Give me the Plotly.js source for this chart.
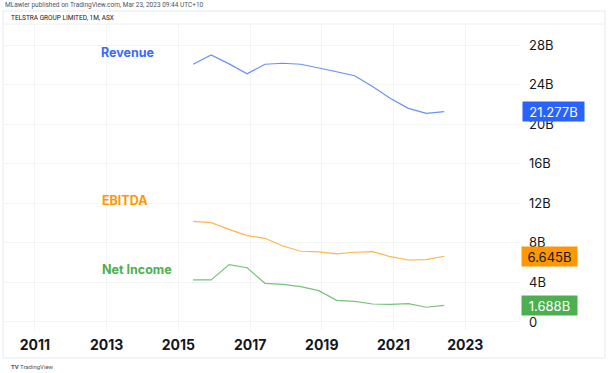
<!DOCTYPE html>
<html>
<head>
<meta charset="utf-8">
<script src="https://cdn.plot.ly/plotly-3.0.1.min.js"></script>
<style>
html,body{margin:0;padding:0;background:#fff;}
#chart{width:609px;height:373px;}
</style>
</head>
<body>
<div id="chart"></div>
<script>
// Half-yearly report dates (bar start of month)
const dates = ['2015-06-01','2015-12-01','2016-06-01','2016-12-01','2017-06-01','2017-12-01','2018-06-01','2018-12-01','2019-06-01','2019-12-01','2020-06-01','2020-12-01','2021-06-01','2021-12-01','2022-06-01'];
// Values in billions AUD
const revenue  = [26.06, 27.0, 26.1, 25.1, 26.06, 26.16, 26.06, 25.7, 25.3, 24.9, 23.8, 22.6, 21.6, 21.1, 21.277];
const ebitda   = [10.18, 10.04, 9.37, 8.73, 8.46, 7.68, 7.15, 7.08, 6.88, 7.05, 7.11, 6.6, 6.27, 6.30, 6.645];
const netIncome= [4.25, 4.25, 5.8, 5.49, 3.91, 3.81, 3.57, 3.17, 2.19, 2.09, 1.82, 1.79, 1.85, 1.49, 1.688];
const yTickVals = [0,4,8,12,16,20,24,28];
const yTickText = ['0','4B','8B','12B','16B','20B','24B','28B'];
const seriesNames = ['Revenue','EBITDA','Net Income'];
const lastLabels = ['21.277B','6.645B','1.688B'];

const lineColors = ['#6a90f6','#ffb450','#78c27b'];
const textColors = ['#3a6cf6','#ff9800','#4caf50'];
const boxColors  = ['#2962ff','#ff9800','#4caf50'];
const boxText    = ['#ffffff','#131722','#ffffff'];
const boxWidths  = [58,52,52];
const allSeries = [revenue, ebitda, netIncome];

const traces = allSeries.map((vals,i)=>({
  x: dates, y: vals, type:'scatter', mode:'lines',
  line:{color:lineColors[i], width:1.2}, hoverinfo:'skip', showlegend:false
}));

// plot area pixel geometry: x 3..520, y 24..330
const W=517, H=306;
const px = v => (v-3)/W;
const py = v => (330-v)/H;

const annotations = [];
// series name labels in plot
const namePos = [[99,52],[100,201],[100,269]];
seriesNames.forEach((n,i)=>{
  annotations.push({xref:'paper',yref:'paper',x:px(namePos[i][0]),y:py(namePos[i][1]),xanchor:'left',yanchor:'middle',
    text:'<b>'+n+'</b>',showarrow:false,font:{family:'Inter, Roboto, sans-serif',size:12.5,color:textColors[i]}});
});
// last value boxes
allSeries.forEach((vals,i)=>{
  annotations.push({xref:'paper',yref:'y',x:px(i===0?522:521),y:vals[vals.length-1],xanchor:'left',yanchor:'middle',
    text:lastLabels[i],showarrow:false,bgcolor:boxColors[i],borderpad:1.5,width:boxWidths[i],align:'center',
    font:{family:'Inter, Roboto, sans-serif',size:13,color:boxText[i]}});
});
// header texts
annotations.push({xref:'paper',yref:'paper',x:px(3),y:py(5),xanchor:'left',yanchor:'middle',showarrow:false,
  text:'MLawler published on TradingView.com, Mar 23, 2023 09:44 UTC+10',font:{family:'Roboto, sans-serif',size:6.5,color:'#50535e'}});
annotations.push({xref:'paper',yref:'paper',x:px(9),y:py(17.5),xanchor:'left',yanchor:'middle',showarrow:false,
  text:'TELSTRA GROUP LIMITED, 1M, ASX',font:{family:'Roboto, sans-serif',size:6.5,color:'#131722'}});
annotations.push({xref:'paper',yref:'paper',x:px(9),y:py(366),xanchor:'left',yanchor:'middle',showarrow:false,
  text:'<b>TV</b> TradingView',font:{family:'Roboto, sans-serif',size:6,color:'#50535e'}});

const shapes = [
  {type:'rect',xref:'paper',yref:'paper',x0:px(3),x1:px(605),y0:py(358),y1:py(11),line:{color:'#e6e8ee',width:1},fillcolor:'rgba(0,0,0,0)',layer:'below'},
  {type:'line',xref:'paper',yref:'paper',x0:px(3),x1:px(605),y0:py(24),y1:py(24),line:{color:'#eef0f3',width:1},layer:'below'}
];

const layout = {
  width:609, height:373,
  margin:{l:3,r:89,t:24,b:43,pad:0},
  paper_bgcolor:'#ffffff', plot_bgcolor:'#ffffff',
  showlegend:false,
  xaxis:{type:'date', range:['2010-02-10','2024-07-12'], tick0:'2011-01-01', dtick:'M24', tickformat:'%Y',
    showgrid:true, gridcolor:'#f3f4f6', gridwidth:1, zeroline:false, showline:false, ticks:'',
    tickfont:{family:'Inter, Roboto, sans-serif',size:14,color:'#131722',weight:700}, ticklabelstandoff:5, fixedrange:true},
  yaxis:{side:'right', range:[-0.81,30.13], tickvals:yTickVals, ticktext:yTickText,
    showgrid:true, gridcolor:'#f3f4f6', gridwidth:1, zeroline:false, showline:false, ticks:'',
    tickfont:{family:'Inter, Roboto, sans-serif',size:13,color:'#131722'}, ticklabelstandoff:8, fixedrange:true},
  annotations, shapes
};
Plotly.newPlot('chart', traces, layout, {displayModeBar:false, staticPlot:true});
</script>
</body>
</html>
